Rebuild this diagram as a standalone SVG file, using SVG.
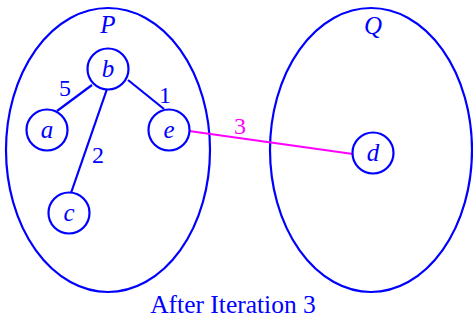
<svg xmlns="http://www.w3.org/2000/svg" width="473" height="320" viewBox="0 0 473 320">
<style>
.set{fill:none;stroke:#0000ff;stroke-width:2.2}
.node circle{fill:#fff;stroke:#0000ff;stroke-width:2.2}
.lbl{font-family:"Liberation Serif",serif;font-style:italic;fill:#0000ff;font-size:25px;text-anchor:middle}
.w{font-family:"Liberation Serif",serif;fill:#0000ff;font-size:24px;text-anchor:middle}
.edge{stroke:#0000ff;stroke-width:2.2}
</style>
<rect width="473" height="320" fill="#fff"/>
<g id="P">
<ellipse class="set" cx="108" cy="150" rx="102" ry="142"/>
<text class="lbl" x="108" y="33">P</text>
</g>
<g id="Q">
<ellipse class="set" cx="371" cy="150" rx="101" ry="142"/>
<text class="lbl" x="373" y="34">Q</text>
</g>
<g id="connectors">
<line class="edge" x1="92" y1="85" x2="57" y2="111"/>
<line class="edge" x1="107" y1="89" x2="71" y2="193"/>
<line class="edge" x1="128" y1="80" x2="164" y2="109"/>
<line x1="189" y1="131" x2="353" y2="154" stroke="#ff00ff" stroke-width="2.2"/>
<text class="w" x="65" y="96">5</text>
<text class="w" x="165" y="103">1</text>
<text class="w" x="98" y="163">2</text>
<text class="w" x="240" y="134" style="fill:#ff00ff">3</text>
</g>
<g id="b" class="node"><circle cx="108" cy="69" r="20.5"/><text class="lbl" x="108" y="77">b</text></g>
<g id="a" class="node"><circle cx="47" cy="130" r="20.5"/><text class="lbl" x="47" y="138">a</text></g>
<g id="e" class="node"><circle cx="169" cy="130" r="20.5"/><text class="lbl" x="169" y="138">e</text></g>
<g id="c" class="node"><circle cx="69" cy="213" r="20.5"/><text class="lbl" x="69" y="221">c</text></g>
<g id="d" class="node"><circle cx="373" cy="153" r="20.5"/><text class="lbl" x="373" y="161">d</text></g>
<text x="233" y="313" font-family="Liberation Serif, serif" font-size="25.5" fill="#0000ff" text-anchor="middle">After Iteration 3</text>
</svg>
